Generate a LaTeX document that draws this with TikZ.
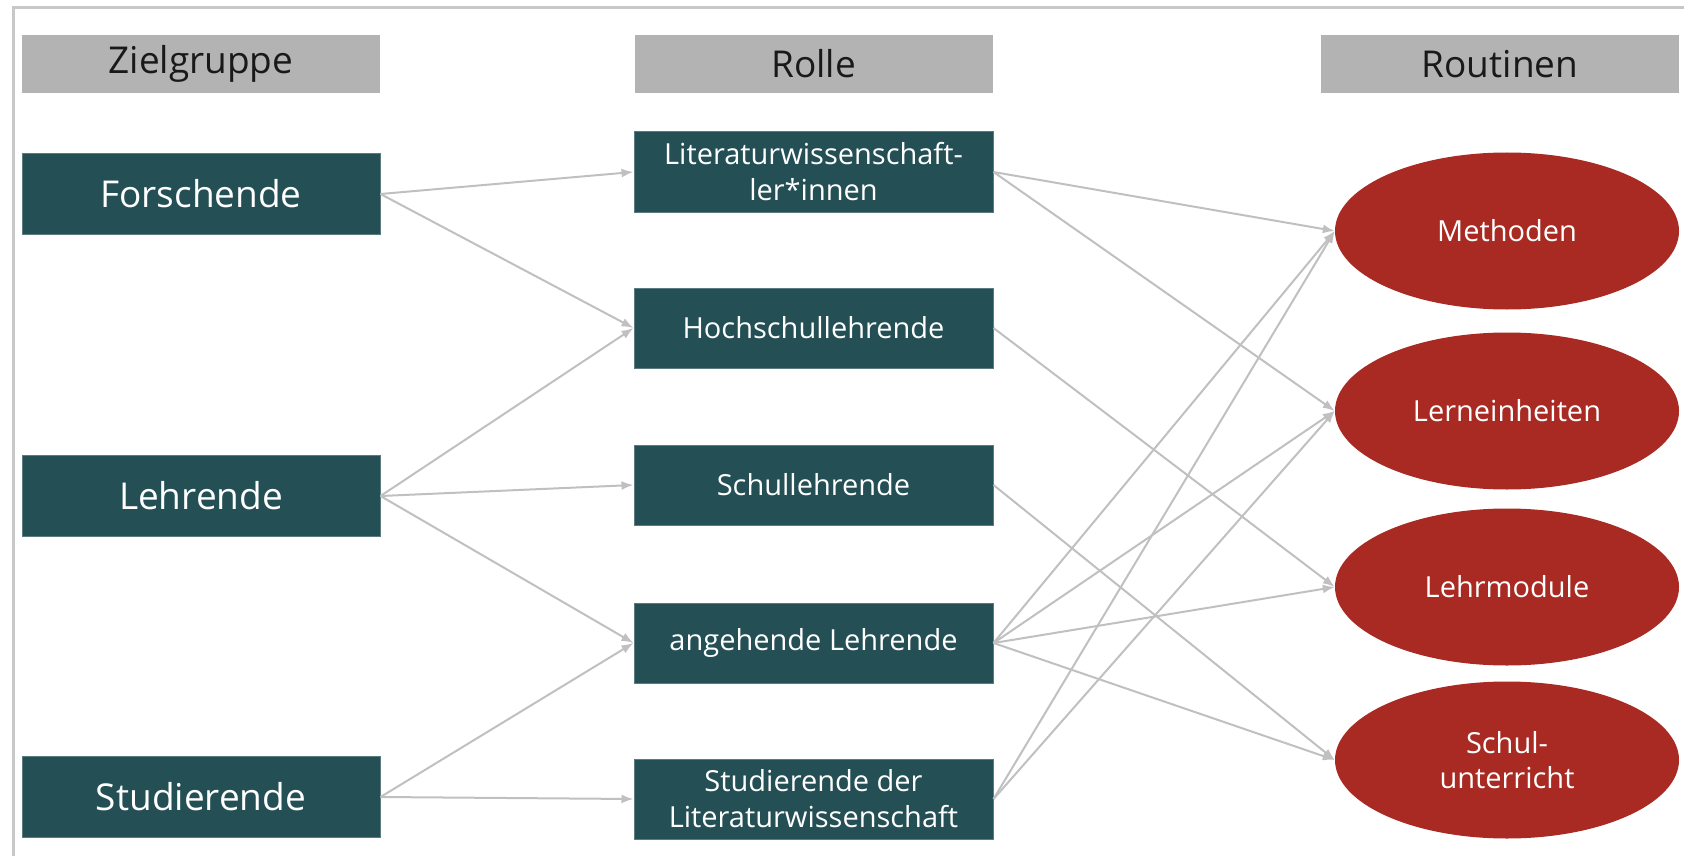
\documentclass[tikz,border=0pt]{standalone}
\usepackage{fontspec}
\setmainfont{Open Sans}
\usepackage{tikz}
\usetikzlibrary{positioning, shapes, arrows.meta}
\definecolor{zielteal}{HTML}{234F55}
\definecolor{routred}{HTML}{A82A22}
\definecolor{kopfgrau}{HTML}{B3B3B3}
\definecolor{pfeilgrau}{HTML}{C0C0C0}
\definecolor{rahmengrau}{HTML}{C8C8C8}

\begin{document}
\begin{tikzpicture}[x=1pt, y=-1pt,
		kopf/.style={fill=kopfgrau, text=black!90, minimum width=358pt, minimum height=58pt, inner sep=0pt, font=\fontsize{37}{42}\selectfont},
		gruppe/.style={fill=zielteal, draw=zielteal!75!white, line width=1pt, text=white, minimum width=358pt, minimum height=81pt, inner sep=0pt, font=\fontsize{37}{42}\selectfont},
		rolle/.style={fill=zielteal, draw=zielteal!75!white, line width=1pt, text=white, minimum width=359pt, minimum height=80pt, inner sep=0pt, align=center, font=\fontsize{29}{36}\selectfont},
		routine/.style={ellipse, fill=routred, text=white, minimum width=344pt, minimum height=157pt, inner sep=0pt, align=center, font=\fontsize{29}{35}\selectfont},
		pfeil/.style={draw=pfeilgrau, line width=2pt, -{Latex[length=12pt,width=9pt]}}]
				\useasboundingbox (0,0) rectangle (1684,856);
				\draw[rahmengrau, line width=3pt] (13,856) -- (13,8) -- (1684,8);

				\node[kopf] (kZiel) at (201,64) {Zielgruppe};
				\node[kopf] (kRolle) at (813.5,64) {Rolle};
				\node[kopf] (kRout) at (1500,64) {Routinen};

				\node[gruppe] (forschende) at (201,194) {Forschende};
				\node[gruppe] (lehrende) at (201,496) {Lehrende};
				\node[gruppe] (studierende) at (201,797) {Studierende};

				\node[rolle] (litwiss) at (813.5,172) {Literaturwissenschaft-\\ler*innen};
				\node[rolle] (hochschul) at (813.5,328) {Hochschullehrende};
				\node[rolle] (schul) at (813.5,485) {Schullehrende};
				\node[rolle] (angehend) at (813.5,643) {angehende Lehrende};
				\node[rolle] (studlit) at (813.5,799) {Studierende der\\Literaturwissenschaft};

				\node[routine] (methoden) at (1507,231) {Methoden};
				\node[routine] (lernein) at (1507,411) {Lerneinheiten};
				\node[routine] (lehrmod) at (1507,587) {Lehrmodule};
				\node[routine] (schulunt) at (1507,760) {Schul-\\unterricht};

				\draw[pfeil] (forschende.east) -- (litwiss.west);
				\draw[pfeil] (forschende.east) -- (hochschul.west);
				\draw[pfeil] (lehrende.east) -- (hochschul.west);
				\draw[pfeil] (lehrende.east) -- (schul.west);
				\draw[pfeil] (lehrende.east) -- (angehend.west);
				\draw[pfeil] (studierende.east) -- (angehend.west);
				\draw[pfeil] (studierende.east) -- (studlit.west);

				\draw[pfeil] (litwiss.east) -- (methoden.west);
				\draw[pfeil] (litwiss.east) -- (lernein.west);
				\draw[pfeil] (hochschul.east) -- (lehrmod.west);
				\draw[pfeil] (schul.east) -- (schulunt.west);
				\foreach \ziel in {methoden, lernein, lehrmod, schulunt}
					\draw[pfeil] (angehend.east) -- (\ziel.west);
				\draw[pfeil] (studlit.east) -- (methoden.west);
				\draw[pfeil] (studlit.east) -- (lernein.west);
			\end{tikzpicture}
\end{document}
